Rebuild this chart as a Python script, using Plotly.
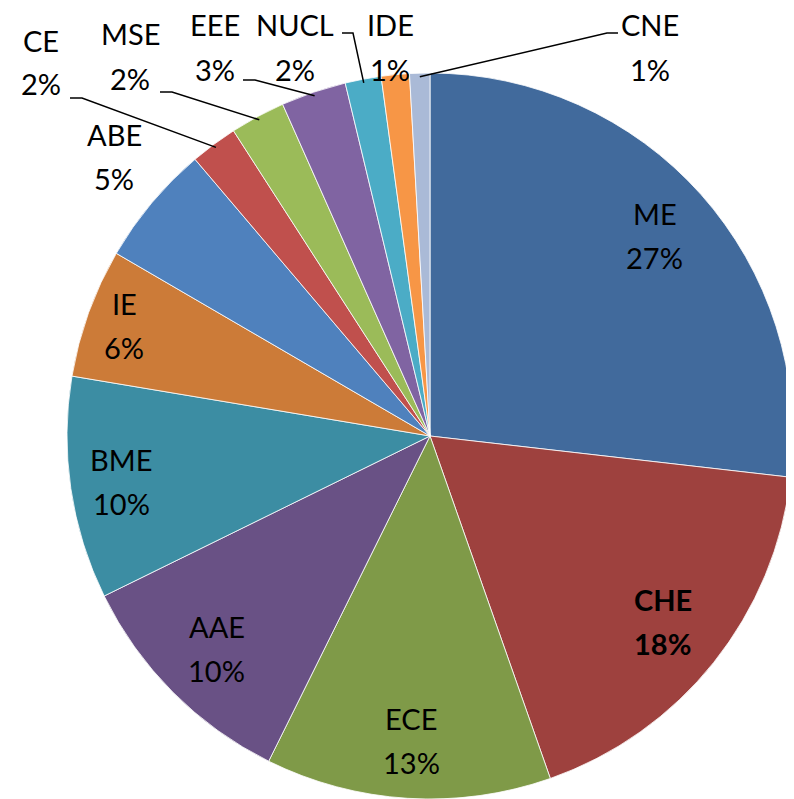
import math
import plotly.graph_objects as go

# ---- data ----
categories = ["ME", "CHE", "ECE", "AAE", "BME", "IE", "ABE", "CE", "MSE", "EEE", "NUCL", "IDE", "CNE"]
shares = [26.8, 17.8, 12.7, 10.4, 9.9, 5.75, 5.4, 2.1, 2.45, 2.9, 1.6, 1.25, 0.9]
pct_labels = ["27%", "18%", "13%", "10%", "10%", "6%", "5%", "2%", "2%", "3%", "2%", "1%", "1%"]

# ---- style ----
colors = ["#416A9C", "#9E413E", "#7F9A48", "#695185", "#3C8DA3", "#CC7B38", "#4F81BD",
          "#C0504D", "#9BBB59", "#8064A2", "#4BACC6", "#F79646", "#AABAD7"]
OFF = 8                      # default page body margin
W, H = 794 - OFF, 799 - OFF  # figure size that fits the window
CX, CY, R = 430, 436, 363    # screen pixel geometry of the pie
FONT = "Lato"
FS = 29
LINE_GAP = 22

inside_r = {"ME": 0.83, "CHE": 0.82, "ECE": 0.84, "AAE": 0.83, "BME": 0.86, "IE": 0.895}
outside_pos = {"ABE": (114, 156), "CE": (41, 62), "MSE": (130, 56), "EEE": (215, 47),
               "NUCL": (295, 47), "IDE": (390, 47), "CNE": (650, 47)}
leader_pts = {"CE": [(70, 98), (82, 98)], "MSE": [(160, 92), (172, 92)],
              "EEE": [(243, 80), (255, 80)], "NUCL": [(342, 33), (353, 33)],
              "CNE": [(618, 33), (607, 33)]}
bold = {"CHE"}


def px(x):
    return (x - OFF) / W


def py(y):
    return 1 - (y - OFF) / H


fig = go.Figure(go.Pie(
    labels=categories, values=shares, sort=False, direction="clockwise", rotation=0,
    marker=dict(colors=colors, line=dict(color="white", width=0.8)),
    textinfo="none", hoverinfo="label+percent",
    domain=dict(x=[px(CX - R), min(1.0, px(CX + R))], y=[max(0.0, py(CY + R)), py(CY - R)]),
))

total = sum(shares)
cum = 0.0
annotations = []
shapes = []
for cat, val, pct in zip(categories, shares, pct_labels):
    mid = (cum + val / 2) / total * 2 * math.pi
    cum += val
    if cat in inside_r:
        r = inside_r[cat] * R
        lx, ly = CX + r * math.sin(mid), CY - r * math.cos(mid)
    else:
        lx, ly = outside_pos[cat]
    for txt, dy in ((cat, -LINE_GAP), (pct, LINE_GAP)):
        annotations.append(dict(
            x=px(lx), y=py(ly + dy), xref="paper", yref="paper", showarrow=False,
            text=f"<b>{txt}</b>" if cat in bold else txt,
            font=dict(family=FONT, size=FS, color="black"),
            xanchor="center", yanchor="middle"))
    if cat in leader_pts:
        ex, ey = CX + 0.99 * R * math.sin(mid), CY - 0.99 * R * math.cos(mid)
        pts = leader_pts[cat] + [(ex, ey)]
        path = "M " + " L ".join(f"{px(a):.5f},{py(b):.5f}" for a, b in pts)
        shapes.append(dict(type="path", xref="paper", yref="paper", path=path,
                           line=dict(color="black", width=1.5)))

fig.update_layout(
    width=W, height=H, margin=dict(l=0, r=0, t=0, b=0),
    paper_bgcolor="white", plot_bgcolor="white", showlegend=False,
    annotations=annotations, shapes=shapes,
)

fig.write_html("out.html")
